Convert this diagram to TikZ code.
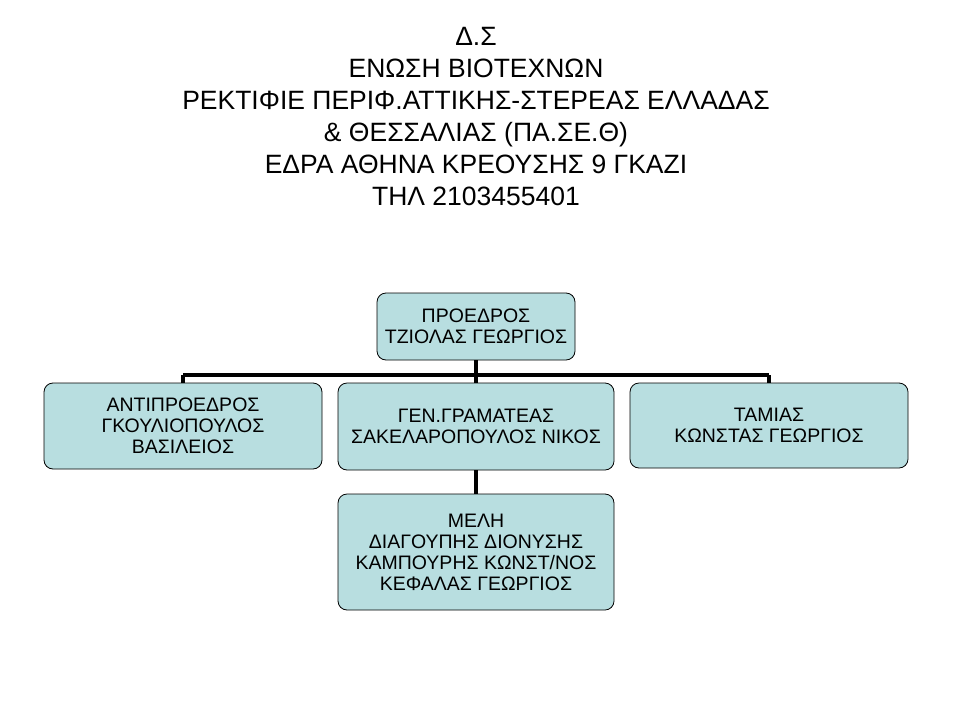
\documentclass[tikz,border=0pt]{standalone}
\usepackage{fontspec}
\setmainfont{Liberation Sans}
\definecolor{boxfill}{RGB}{184,222,224}
\begin{document}
\begin{tikzpicture}[x=1pt,y=-1pt,
  box/.style={draw=black,fill=boxfill,rounded corners=9pt,line width=0.8pt,align=center,font=\fontsize{19.5}{21}\selectfont,inner sep=0pt},
  conn/.style={line width=3.5pt}]
\useasboundingbox (0,0) rectangle (960,720);
\node[align=center,font=\fontsize{26.5}{32}\selectfont,anchor=north] (title) at (476,24) {Δ.Σ\\ΕΝΩΣΗ ΒΙΟΤΕΧΝΩΝ\\ΡΕΚΤΙΦΙΕ ΠΕΡΙΦ.ΑΤΤΙΚΗΣ-ΣΤΕΡΕΑΣ ΕΛΛΑΔΑΣ\\\& ΘΕΣΣΑΛΙΑΣ (ΠΑ.ΣΕ.Θ)\\ΕΔΡΑ ΑΘΗΝΑ ΚΡΕΟΥΣΗΣ 9 ΓΚΑΖΙ\\ΤΗΛ 2103455401};
\coordinate (jt) at (476,375);
\coordinate (jl) at (183,375);
\coordinate (jr) at (769,375);
\coordinate (jm) at (476,375);
\node[box,minimum width=198pt,minimum height=67pt] (top) at (476,326.5) {ΠΡΟΕΔΡΟΣ\\ΤΖΙΟΛΑΣ ΓΕΩΡΓΙΟΣ};
\draw[conn] (top.south) -- (jt);
\draw[conn] (jl) -- (jr);
\node[box,minimum width=278pt,minimum height=86pt] (vp) at (183,426) {ΑΝΤΙΠΡΟΕΔΡΟΣ\\ΓΚΟΥΛΙΟΠΟΥΛΟΣ\\ΒΑΣΙΛΕΙΟΣ};
\node[box,minimum width=276pt,minimum height=87pt] (gs) at (476,426.5) {ΓΕΝ.ΓΡΑΜΑΤΕΑΣ\\ΣΑΚΕΛΑΡΟΠΟΥΛΟΣ ΝΙΚΟΣ};
\node[box,minimum width=278pt,minimum height=85pt] (tm) at (769,425.5) {ΤΑΜΙΑΣ\\ΚΩΝΣΤΑΣ ΓΕΩΡΓΙΟΣ};
\node[box,minimum width=276pt,minimum height=116pt] (mb) at (476,552) {ΜΕΛΗ\\ΔΙΑΓΟΥΠΗΣ ΔΙΟΝΥΣΗΣ\\ΚΑΜΠΟΥΡΗΣ ΚΩΝΣΤ/ΝΟΣ\\ΚΕΦΑΛΑΣ ΓΕΩΡΓΙΟΣ};
\draw[conn] (jl) -- (vp.north);
\draw[conn] (jr) -- (tm.north);
\draw[conn] (jm) -- (gs.north);
\draw[conn] (gs.south) -- (mb.north);
\end{tikzpicture}
\end{document}
